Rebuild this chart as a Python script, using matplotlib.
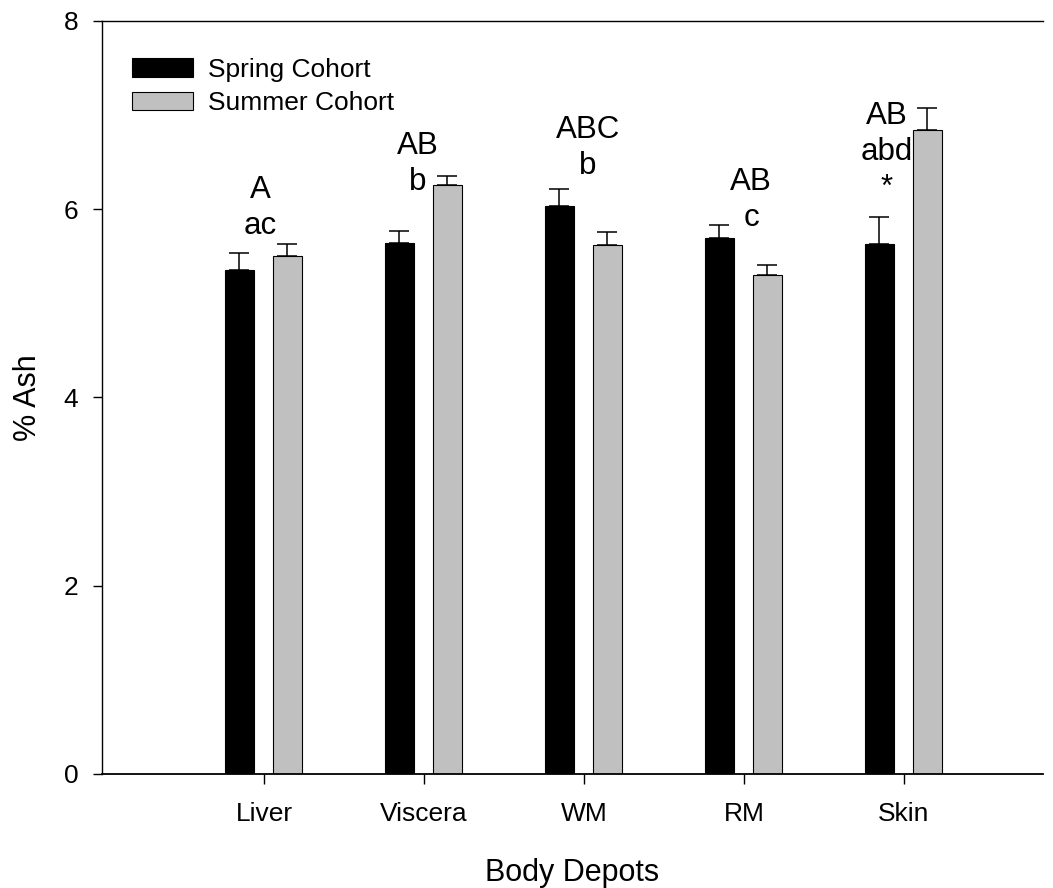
import matplotlib
matplotlib.use("Agg")
import matplotlib.pyplot as plt
import numpy as np

plt.rcParams['font.family'] = ['Liberation Sans', 'DejaVu Sans']

depots = ["Liver", "Viscera", "WM", "RM", "Skin"]
spring = [5.35, 5.64, 6.03, 5.69, 5.63]
spring_err = [0.19, 0.13, 0.18, 0.14, 0.29]
summer = [5.50, 6.26, 5.62, 5.30, 6.84]
summer_err = [0.13, 0.09, 0.14, 0.11, 0.23]
letters = [["A", "ac"], ["AB", "b"], ["ABC", "b"], ["AB", "c"], ["AB", "abd", "*"]]

# where each letter stack sits (x offset from tick, baseline of top line)
letter_dx = [-0.025, -0.04, 0.025, 0.044, -0.11]
letter_y = [6.12, 6.59, 6.76, 6.20, 6.91]

x = np.arange(len(depots))
w = 0.18

fig = plt.figure(figsize=(10.53, 8.88), dpi=100)
ax = fig.add_axes([0.0969, 0.1284, 0.8936, 0.848])

ekw = dict(elinewidth=1.1, capthick=1.1, ecolor="black")
ax.bar(x - 0.155, spring, w, color="black", edgecolor="black", linewidth=0.8,
       yerr=[np.zeros(5), spring_err], capsize=7.2, error_kw=ekw,
       label="Spring Cohort")
ax.bar(x + 0.145, summer, w, color="#c0c0c0", edgecolor="black", linewidth=0.8,
       yerr=[np.zeros(5), summer_err], capsize=7.2, error_kw=ekw,
       label="Summer Cohort")

for i, lines in enumerate(letters):
    for j, s in enumerate(lines):
        ax.annotate(s, (x[i] + letter_dx[i], letter_y[i]), xytext=(0, -26 * j),
                    textcoords="offset points", ha="center", va="baseline",
                    fontsize=22.5)

ax.set_xlim(-1.0125, 4.869)
ax.set_ylim(0, 8)
ax.set_yticks([0, 2, 4, 6, 8])
ax.set_xticks(x)
ax.set_xticklabels(depots)
ax.tick_params(axis="y", direction="out", length=6.5, width=1.0, pad=10.5, labelsize=19)
ax.tick_params(axis="x", direction="out", length=7.5, width=1.0, pad=13, labelsize=19)
ax.spines["right"].set_visible(False)
ax.spines["top"].set_linewidth(1.0)
ax.spines["left"].set_linewidth(1.0)
ax.spines["bottom"].set_linewidth(1.3)

ax.set_xlabel("Body Depots", fontsize=22, labelpad=23)
ax.set_ylabel("% Ash", fontsize=22, labelpad=15)

ax.legend(loc="upper left", bbox_to_anchor=(0.032, 0.951), frameon=False,
          fontsize=19, handlelength=2.3, handleheight=0.7, handletextpad=0.57,
          labelspacing=0.36, borderpad=0, borderaxespad=0)

fig.savefig("out.png", dpi=100)
